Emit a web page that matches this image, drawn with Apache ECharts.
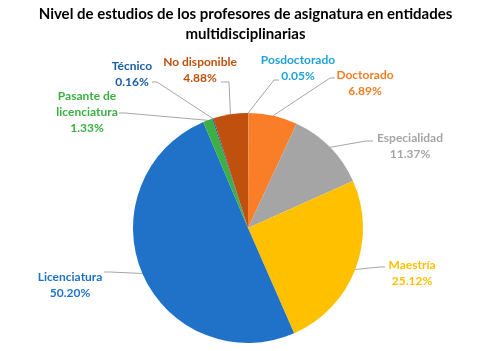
<!DOCTYPE html>
<html><head><meta charset="utf-8">
<script src="https://cdn.jsdelivr.net/npm/echarts@6/dist/echarts.min.js"></script>
<style>html,body{margin:0;padding:0;background:#fff}#c{width:491px;height:351px}</style>
</head><body><div id="c"></div>
<script>
const titleLines = ['Nivel de estudios de los profesores de asignatura en entidades', 'multidisciplinarias'];
const categories = ['Posdoctorado', 'Doctorado', 'Especialidad', 'Maestría', 'Licenciatura', 'Pasante de licenciatura', 'Técnico', 'No disponible'];
const values = [0.05, 6.89, 11.37, 25.12, 50.20, 1.33, 0.16, 4.88];
const colors = ['#2BA8E0', '#FA7D28', '#A5A5A5', '#FFC000', '#1F72C8', '#3CB043', '#1A5EA8', '#C0500E'];
const labelColors = ['#21A3DA', '#F57C22', '#A5A5A5', '#FFC000', '#1F72C8', '#3CB043', '#1A5EA8', '#C0500E'];
// label centre positions
const labelPos = [[298, 68], [365, 83], [410, 146], [412, 273], [70, 285], [87, 112], [132, 74], [200, 70]];
// leader line: elbow point, end point (next to the label)
const leaderPts = [
  [[274, 80], [279, 80]],
  [[330, 78], [335, 78]],
  [[366, 141], [373, 141]],
  [[380, 267], [385, 267]],
  [[110, 272], [104, 272]],
  [[125, 113], [119, 113]],
  [[157, 82], [152, 82]],
  [[229, 82], [221, 82]]
];

const chart = echarts.init(document.getElementById('c'));
chart.setOption({
  animation: false,
  title: {
    text: titleLines.join('\n'),
    left: 'center', top: 4, padding: 0,
    textStyle: { fontFamily: 'Lato', fontWeight: 'bold', fontSize: 15, color: '#000', lineHeight: 20 }
  },
  series: [{
    type: 'pie',
    center: [248, 228],
    radius: 115,
    startAngle: 90,
    clockwise: true,
    data: categories.map((n, i) => ({
      name: n, value: values[i],
      itemStyle: { color: colors[i] },
      label: { color: labelColors[i] }
    })),
    itemStyle: { borderWidth: 0 },
    label: {
      show: true,
      formatter: p => p.name.replace('Pasante de ', 'Pasante de\n') + '\n' + p.value.toFixed(2) + '%',
      fontFamily: 'Lato', fontWeight: 'bold', fontSize: 12, lineHeight: 16, align: 'center'
    },
    labelLine: { show: true, lineStyle: { color: '#A6A6A6', width: 1 }, length: 10, length2: 10 },
    labelLayout: p => {
      const i = p.dataIndex;
      const start = p.labelLinePoints ? p.labelLinePoints[0] : leaderPts[i][0];
      return {
        x: labelPos[i][0], y: labelPos[i][1],
        align: 'center', verticalAlign: 'middle',
        labelLinePoints: [start, leaderPts[i][0], leaderPts[i][1]]
      };
    }
  }]
});
</script></body></html>
